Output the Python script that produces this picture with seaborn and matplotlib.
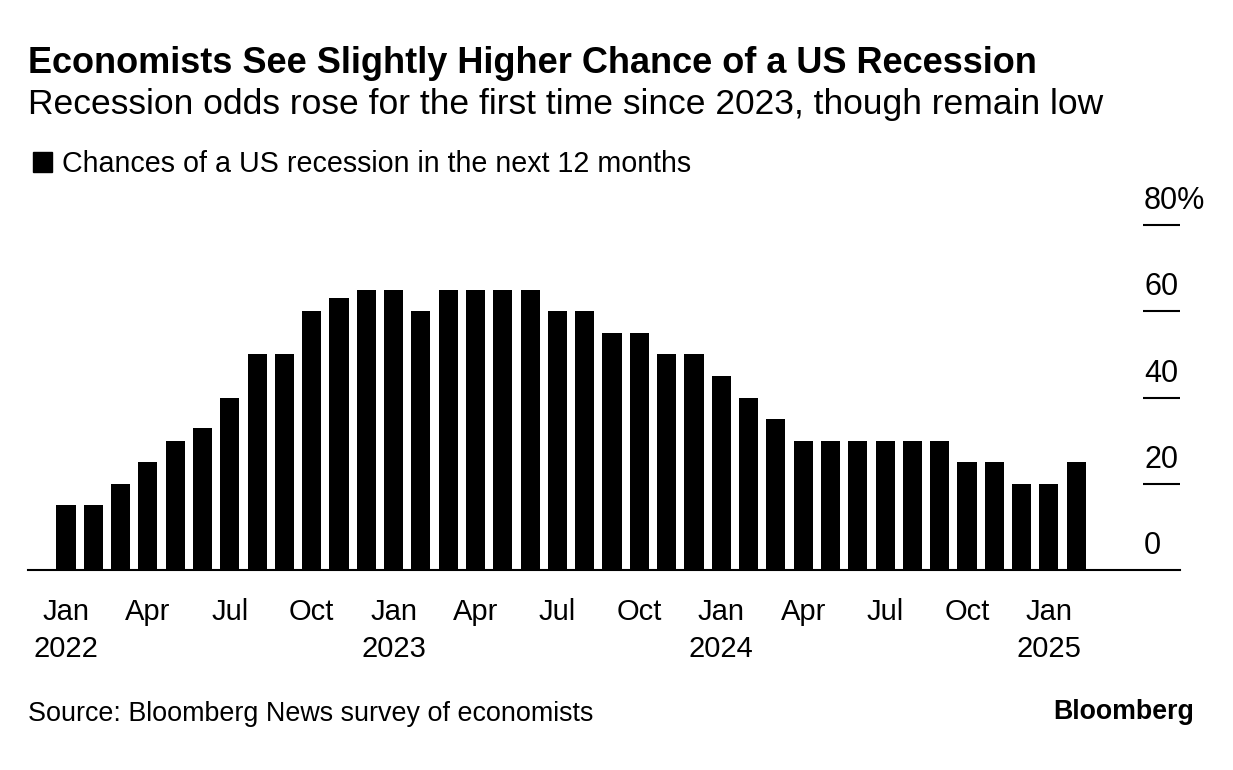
import matplotlib
matplotlib.use("Agg")
import matplotlib.pyplot as plt
import matplotlib.transforms as mtransforms
import pandas as pd
import seaborn as sns

# Monthly survey, Jan 2022 - Feb 2025
months = pd.period_range("2022-01", "2025-02", freq="M")
odds = [15, 15, 20, 25, 30, 33, 40, 50, 50, 60, 63, 65,
        65, 60, 65, 65, 65, 65, 60, 60, 55, 55, 50, 50,
        45, 40, 35, 30, 30, 30, 30, 30, 30, 25, 25, 20,
        20, 25]
y_ticks = [0, 20, 40, 60, 80]
y_tick_labels = ["0", "20", "40", "60", "80%"]

df = pd.DataFrame({"month": months.strftime("%Y-%m"), "odds": odds})

sns.set_style("white")
plt.rcParams["font.family"] = ["Liberation Sans", "DejaVu Sans"]
plt.rcParams["text.color"] = "black"

W, H = 1233, 770
fig = plt.figure(figsize=(W / 100, H / 100), dpi=100)
ax = fig.add_axes([28 / W, 1 - 570 / H, (1180 - 28) / W, (570 - 225) / H])

sns.barplot(data=df, x="month", y="odds", color="black", saturation=1,
            width=0.7, linewidth=0, ax=ax)

ax.set_xlim(-1.39, 40.8)
ax.set_ylim(0, 80)
for s in ["top", "right", "left"]:
    ax.spines[s].set_visible(False)
ax.spines["bottom"].set_linewidth(1.5)
ax.spines["bottom"].set_color("black")
ax.set_xlabel("")
ax.set_ylabel("")

# quarterly ticks, year under January
tick_pos = list(range(0, len(months), 3))
tick_lbl = []
for i in tick_pos:
    m = months[i]
    lbl = m.strftime("%b")
    if m.month == 1:
        lbl += "\n" + str(m.year)
    tick_lbl.append(lbl)
ax.set_xticks(tick_pos)
ax.set_xticklabels(tick_lbl, fontsize=21, linespacing=1.4)
ax.tick_params(axis="x", direction="out", length=7.5, width=1.1,
               color="black", pad=13, labelcolor="black")

# right-side value markers with labels above
ax.set_yticks([])
ytrans = ax.get_yaxis_transform()
x0 = (1143 - 28) / (1180 - 28)
for v, lbl in zip(y_ticks, y_tick_labels):
    if v > 0:
        ax.plot([x0, 1.0], [v, v], color="black", lw=1.5, transform=ytrans,
                clip_on=False, solid_capstyle="butt")
    off = mtransforms.offset_copy(ytrans, fig=fig, x=1, y=16, units="dots")
    ax.text(x0, v, lbl, transform=off, ha="left", va="baseline",
            fontsize=22, color="black")

fig.text(28 / W, 1 - 73 / H, "Economists See Slightly Higher Chance of a US Recession",
         fontsize=26, fontweight="bold", va="baseline", ha="left")
fig.text(28 / W, 1 - 114 / H,
         "Recession odds rose for the first time since 2023, though remain low",
         fontsize=25.5, va="baseline", ha="left")
fig.text(62 / W, 1 - 172 / H, "Chances of a US recession in the next 12 months",
         fontsize=20.6, va="baseline", ha="left")
fig.patches.append(plt.Rectangle((33 / W, 1 - 172 / H), 19 / W, 20 / H,
                                 transform=fig.transFigure, color="black"))
fig.text(28 / W, 1 - 721 / H, "Source: Bloomberg News survey of economists",
         fontsize=19.4, va="baseline", ha="left")
fig.text(1194 / W, 1 - 719 / H, "Bloomberg", fontsize=19.3, fontweight="bold",
         va="baseline", ha="right")

fig.savefig("out.png", dpi=100, facecolor="white")
